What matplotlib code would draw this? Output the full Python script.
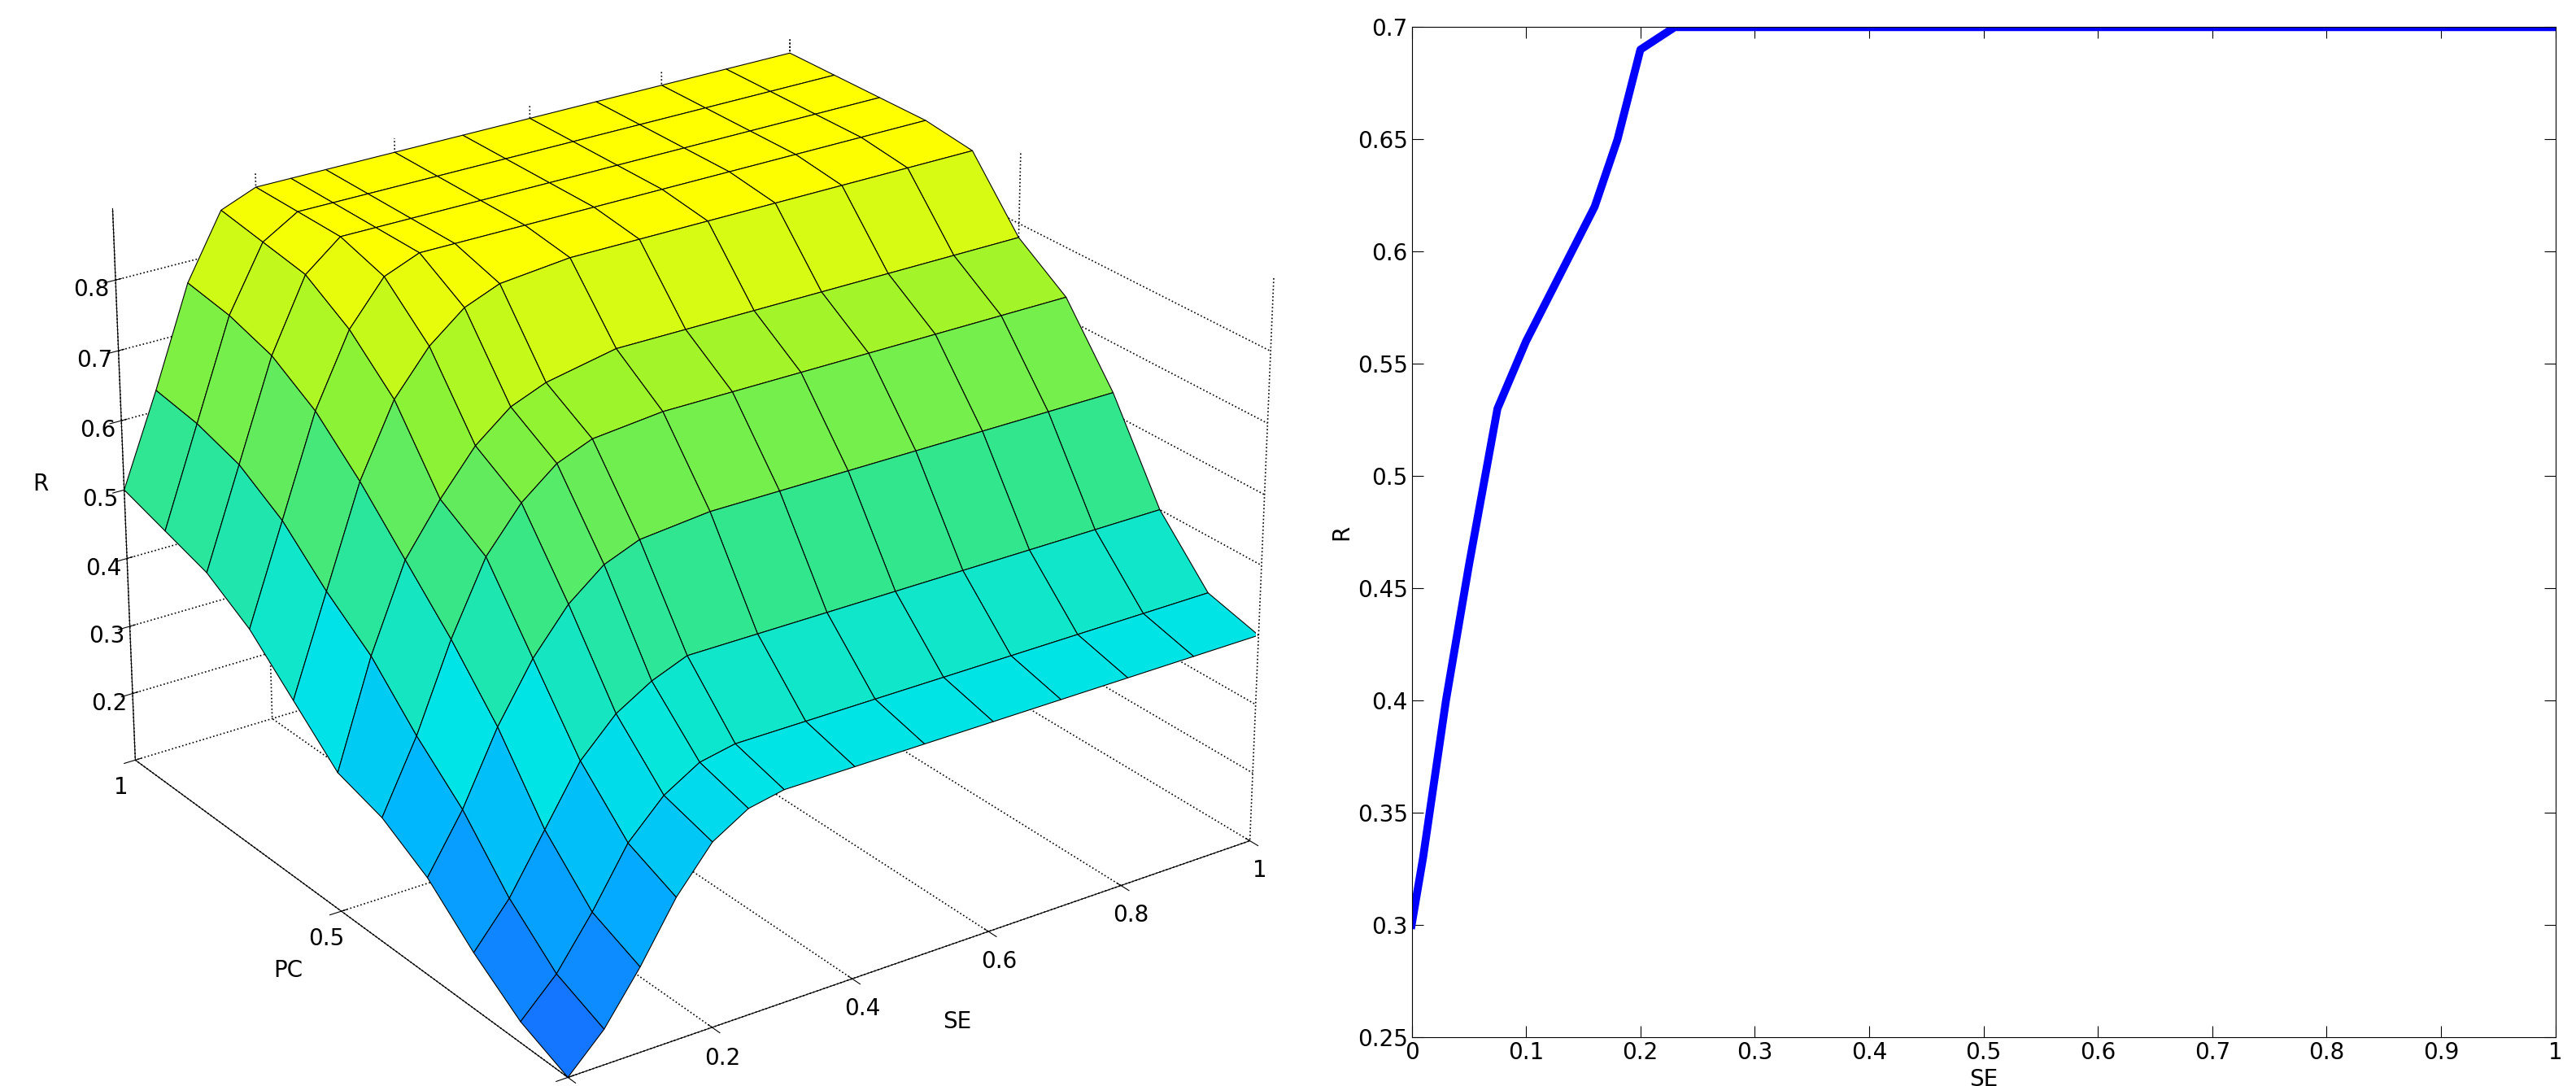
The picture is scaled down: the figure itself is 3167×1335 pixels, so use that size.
import numpy as np
import matplotlib
matplotlib.use("Agg")
import matplotlib.pyplot as plt
from matplotlib.colors import LinearSegmentedColormap

# Surface data (rows: PC, columns: SE)
se_grid = [0, 0.05, 0.1, 0.15, 0.2, 0.25, 0.3, 0.4, 0.5, 0.6, 0.7, 0.8, 0.9, 1.0]
pc_grid = [0, 0.1, 0.2, 0.3, 0.4, 0.5, 0.6, 0.7, 0.8, 0.9, 1.0]
r_pc00 = [0.10, 0.15, 0.22, 0.30, 0.36, 0.39, 0.40, 0.40, 0.40, 0.40, 0.40, 0.40, 0.40, 0.40]
r_pc01 = [0.13, 0.18, 0.25, 0.33, 0.38, 0.41, 0.42, 0.42, 0.42, 0.42, 0.42, 0.42, 0.42, 0.42]
r_pc02 = [0.18, 0.24, 0.32, 0.40, 0.45, 0.48, 0.50, 0.50, 0.50, 0.50, 0.50, 0.50, 0.50, 0.50]
r_pc03 = [0.24, 0.32, 0.42, 0.50, 0.56, 0.60, 0.62, 0.63, 0.63, 0.63, 0.63, 0.63, 0.63, 0.63]
r_pc04 = [0.28, 0.38, 0.50, 0.60, 0.66, 0.70, 0.72, 0.73, 0.73, 0.73, 0.73, 0.73, 0.73, 0.73]
r_pc05 = [0.30, 0.45, 0.57, 0.64, 0.70, 0.74, 0.76, 0.78, 0.78, 0.78, 0.78, 0.78, 0.78, 0.78]
r_pc06 = [0.36, 0.50, 0.64, 0.74, 0.80, 0.84, 0.86, 0.87, 0.87, 0.87, 0.87, 0.87, 0.87, 0.87]
r_pc07 = [0.42, 0.56, 0.70, 0.80, 0.86, 0.88, 0.88, 0.88, 0.88, 0.88, 0.88, 0.88, 0.88, 0.88]
r_pc08 = [0.46, 0.60, 0.74, 0.84, 0.88, 0.88, 0.88, 0.88, 0.88, 0.88, 0.88, 0.88, 0.88, 0.88]
r_pc09 = [0.48, 0.62, 0.76, 0.85, 0.88, 0.88, 0.88, 0.88, 0.88, 0.88, 0.88, 0.88, 0.88, 0.88]
r_pc10 = [0.50, 0.63, 0.77, 0.86, 0.88, 0.88, 0.88, 0.88, 0.88, 0.88, 0.88, 0.88, 0.88, 0.88]

# Line data
se_line = [0, 0.01, 0.03, 0.05, 0.075, 0.1, 0.13, 0.16, 0.18, 0.2, 0.23, 1.0]
r_line = [0.30, 0.33, 0.40, 0.46, 0.53, 0.56, 0.59, 0.62, 0.65, 0.69, 0.70, 0.70]

Z = np.array([r_pc00, r_pc01, r_pc02, r_pc03, r_pc04, r_pc05, r_pc06,
              r_pc07, r_pc08, r_pc09, r_pc10])
X, Y = np.meshgrid(se_grid, pc_grid)

cmap = LinearSegmentedColormap.from_list("p", [
    (0.0, (0.1, 0.4, 1.0)), (0.25, (0.0, 0.7, 1.0)), (0.4, (0.0, 0.9, 0.9)),
    (0.6, (0.2, 0.9, 0.55)), (0.8, (0.55, 0.95, 0.2)), (1.0, (1.0, 1.0, 0.0))])

fig = plt.figure(figsize=(31.67, 13.35), dpi=100)
ax = fig.add_axes([-0.03, -0.04, 0.58, 1.08], projection="3d")
ax.plot_surface(X, Y, Z, cmap=cmap, vmin=0.1, vmax=0.88, edgecolor="black",
                linewidth=0.8, shade=False, antialiased=True)
ax.view_init(elev=25, azim=-125)
ax.set_xlim(0, 1); ax.set_ylim(0, 1); ax.set_zlim(0.1, 0.9)
ax.set_xticks([0, 0.2, 0.4, 0.6, 0.8, 1]); ax.set_xticklabels(["0", "0.2", "0.4", "0.6", "0.8", "1"])
ax.set_yticks([0, 0.5, 1]); ax.set_yticklabels(["0", "0.5", "1"])
ax.set_zticks([0.2, 0.3, 0.4, 0.5, 0.6, 0.7, 0.8])
ax.set_xlabel("SE", fontsize=20, labelpad=20)
ax.set_ylabel("PC", fontsize=20, labelpad=20)
ax.set_zlabel("R", fontsize=20, labelpad=20)
ax.tick_params(labelsize=20)
for a in (ax.xaxis, ax.yaxis, ax.zaxis):
    a.set_pane_color((1, 1, 1, 0))
    a._axinfo["grid"].update(color="black", linestyle=":", linewidth=1.2)
ax.set_box_aspect((1.35, 1.3, 1.0), zoom=1.08)

ax2 = fig.add_axes([0.548, 0.045, 0.444, 0.93])
ax2.plot(se_line, r_line, color="blue", linewidth=7)
ax2.set_xlim(0, 1); ax2.set_ylim(0.25, 0.7)
ax2.set_xticks(np.arange(0, 1.01, 0.1)); ax2.set_xticklabels(["0", "0.1", "0.2", "0.3", "0.4", "0.5", "0.6", "0.7", "0.8", "0.9", "1"])
ax2.set_yticks(np.arange(0.25, 0.701, 0.05)); ax2.set_yticklabels(["0.25", "0.3", "0.35", "0.4", "0.45", "0.5", "0.55", "0.6", "0.65", "0.7"])
ax2.tick_params(labelsize=20, direction="in", length=10, top=True, right=True)
ax2.set_xlabel("SE", fontsize=20)
ax2.set_ylabel("R", fontsize=20)
fig.savefig("out.png")
